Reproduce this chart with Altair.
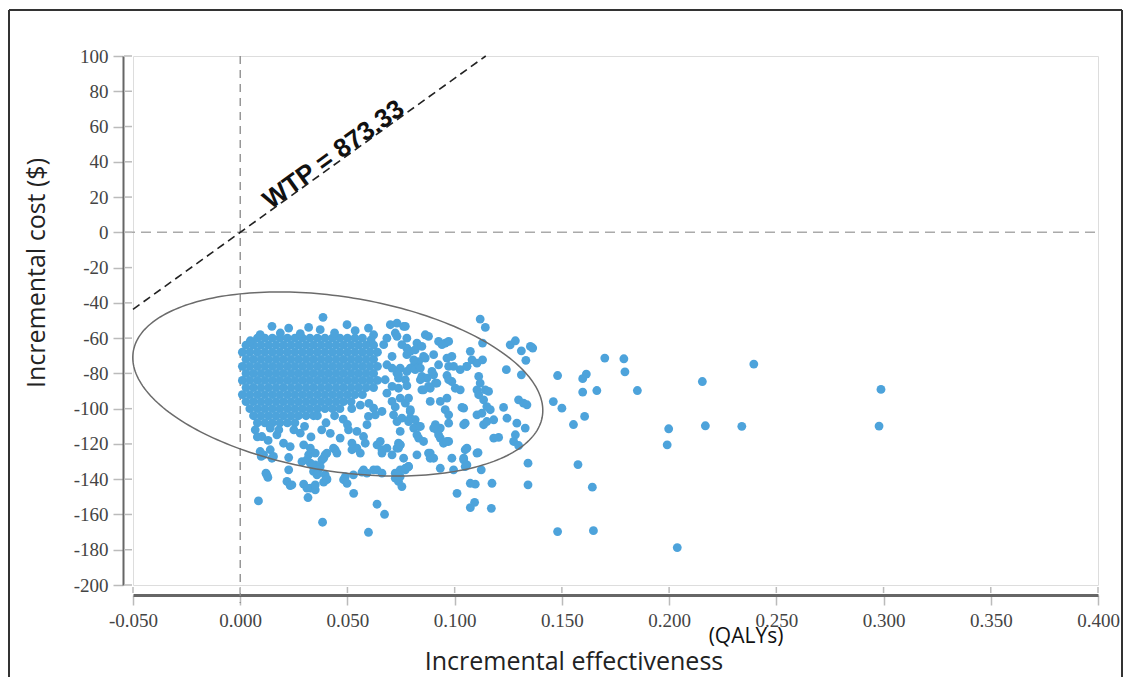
import altair as alt
import pandas as pd
import numpy as np

# ---------------- data ----------------
x_ticks = [-0.05, 0.0, 0.05, 0.1, 0.15, 0.2, 0.25, 0.3, 0.35, 0.4]
y_ticks = [100, 80, 60, 40, 20, 0, -20, -40, -60, -80, -100, -120, -140, -160, -180, -200]

wtp = 873.33
wtp_eff = [-0.05, 0.1145]

# dense core of the cloud, one list of effects per cost row
core_cost_rows = [-60, -64, -68, -72, -76, -80, -84, -88, -92, -96, -100, -104, -108]
core_eff_rows = [
    [0.008, 0.0115, 0.015, 0.0185, 0.022, 0.0255, 0.029, 0.0325, 0.036, 0.0395, 0.043, 0.0465, 0.050, 0.0535, 0.057],
    [0.0027, 0.0062, 0.0097, 0.0132, 0.0167, 0.0202, 0.0237, 0.0272, 0.0307, 0.0342, 0.0377, 0.0412, 0.0447, 0.0482, 0.0517, 0.0552, 0.0587, 0.0622],
    [0.001, 0.0045, 0.008, 0.0115, 0.015, 0.0185, 0.022, 0.0255, 0.029, 0.0325, 0.036, 0.0395, 0.043, 0.0465, 0.050, 0.0535, 0.057, 0.0605, 0.064],
    [0.0027, 0.0062, 0.0097, 0.0132, 0.0167, 0.0202, 0.0237, 0.0272, 0.0307, 0.0342, 0.0377, 0.0412, 0.0447, 0.0482, 0.0517, 0.0552, 0.0587, 0.0622],
    [0.001, 0.0045, 0.008, 0.0115, 0.015, 0.0185, 0.022, 0.0255, 0.029, 0.0325, 0.036, 0.0395, 0.043, 0.0465, 0.050, 0.0535, 0.057, 0.0605, 0.064],
    [0.0027, 0.0062, 0.0097, 0.0132, 0.0167, 0.0202, 0.0237, 0.0272, 0.0307, 0.0342, 0.0377, 0.0412, 0.0447, 0.0482, 0.0517, 0.0552, 0.0587, 0.0622],
    [0.001, 0.0045, 0.008, 0.0115, 0.015, 0.0185, 0.022, 0.0255, 0.029, 0.0325, 0.036, 0.0395, 0.043, 0.0465, 0.050, 0.0535, 0.057, 0.0605, 0.064],
    [0.0027, 0.0062, 0.0097, 0.0132, 0.0167, 0.0202, 0.0237, 0.0272, 0.0307, 0.0342, 0.0377, 0.0412, 0.0447, 0.0482, 0.0517, 0.0552, 0.0587, 0.0622],
    [0.001, 0.0045, 0.008, 0.0115, 0.015, 0.0185, 0.022, 0.0255, 0.029, 0.0325, 0.036, 0.0395, 0.043, 0.0465, 0.050, 0.0535, 0.057],
    [0.0027, 0.0062, 0.0097, 0.0132, 0.0167, 0.0202, 0.0237, 0.0272, 0.0307, 0.0342, 0.0377, 0.0412, 0.0447, 0.0482, 0.0517],
    [0.0045, 0.008, 0.0115, 0.015, 0.0185, 0.022, 0.0255, 0.029, 0.0325, 0.036, 0.0395, 0.043, 0.0465],
    [0.0062, 0.0097, 0.0132, 0.0167, 0.0202, 0.0237, 0.0272, 0.0307, 0.0342],
    [0.008, 0.0115, 0.015, 0.0185, 0.022, 0.0255],
]

# scattered simulations around the core
spread_pts = [
    (0.0148, -53.3), (0.0226, -54.3), (0.0319, -53.9), (0.0386, -48.2), (0.0498, -52.4), (0.0536, -55.8),
    (0.0598, -54.3), (0.0373, -55.2), (0.0187, -57.1), (0.0093, -58.0), (0.0047, -61.5), (0.0622, -58.1),
    (0.0700, -52.4), (0.0731, -51.5), (0.0762, -53.3), (0.0440, -57.0), (0.0280, -57.5), (0.0610, -61.0),
    (0.0669, -63.7), (0.0708, -70.4), (0.0684, -75.1), (0.0676, -83.6), (0.0708, -87.4), (0.0738, -82.7),
    (0.0770, -83.6), (0.0684, -91.2), (0.0708, -95.9), (0.0661, -101.6), (0.0715, -103.5), (0.0731, -107.3),
    (0.0777, -69.4), (0.0793, -67.5), (0.0754, -63.7), (0.0723, -57.1), (0.0684, -60.0), (0.0731, -59.0),
    (0.0777, -65.7), (0.0824, -62.8), (0.0847, -64.7), (0.0855, -70.4), (0.0832, -73.3), (0.0809, -76.0),
    (0.0746, -77.0), (0.0777, -78.9), (0.0731, -79.9), (0.0708, -77.0), (0.0847, -81.7), (0.0871, -82.7),
    (0.0902, -80.8), (0.0917, -85.5), (0.0886, -88.4), (0.0847, -89.3), (0.0972, -76.0), (0.0987, -84.6),
    (0.1026, -77.9), (0.1057, -76.0), (0.1073, -67.5), (0.0746, -94.0), (0.0770, -96.9), (0.0793, -101.6),
    (0.0863, -58.1), (0.0878, -59.0), (0.0925, -61.9), (0.0956, -62.8), (0.0972, -61.9), (0.0777, -60.0),
    (0.0770, -53.3), (0.0785, -67.5), (0.0816, -66.6), (0.0863, -71.3), (0.0809, -72.3), (0.0793, -77.0),
    (0.0816, -77.9), (0.0840, -77.0), (0.0738, -80.8), (0.0777, -87.0), (0.0738, -88.4), (0.0723, -99.0),
    (0.0785, -94.0), (0.0793, -100.6), (0.0754, -105.4), (0.0793, -105.4), (0.0816, -106.3), (0.0832, -110.1),
    (0.0832, -116.7), (0.0746, -112.9), (0.0746, -120.5), (0.0738, -122.4), (0.0902, -69.4), (0.0925, -75.1),
    (0.0964, -71.3), (0.0941, -63.7), (0.0995, -76.0), (0.0964, -81.2), (0.0972, -83.6), (0.0910, -85.5),
    (0.0878, -87.4), (0.0855, -89.3), (0.0840, -83.6), (0.0894, -78.9), (0.0987, -70.4), (0.1026, -89.3),
    (0.1003, -88.4), (0.1042, -99.7),
    (0.1119, -49.2), (0.1143, -53.9), (0.1130, -62.8), (0.1259, -63.8), (0.1283, -61.5), (0.1311, -67.2),
    (0.1353, -64.7), (0.1364, -65.6), (0.1332, -72.6), (0.1241, -77.9), (0.1311, -80.8), (0.1298, -95.0),
    (0.1321, -96.9), (0.1337, -97.8), (0.1228, -99.3), (0.1244, -105.4), (0.1290, -108.2), (0.1329, -111.0),
    (0.1283, -114.8), (0.1275, -118.6), (0.1298, -120.9), (0.1205, -116.3), (0.1182, -116.7), (0.1342, -130.9),
    (0.1342, -143.2), (0.1174, -142.3), (0.1096, -142.8), (0.1073, -142.3), (0.1124, -134.7), (0.1109, -124.9),
    (0.1049, -123.3), (0.1042, -129.0), (0.1049, -132.8), (0.0987, -128.1), (0.0933, -133.8), (0.0878, -125.2),
    (0.0886, -128.1), (0.0785, -132.8), (0.0770, -134.7), (0.0746, -138.5), (0.0972, -118.6), (0.0948, -119.6),
    (0.0933, -111.0), (0.0910, -109.1), (0.0917, -112.0), (0.0972, -108.2), (0.1049, -108.2), (0.1042, -109.1),
    (0.1135, -109.1), (0.1150, -107.3), (0.1182, -106.3), (0.1104, -103.5), (0.1127, -102.6), (0.1150, -98.8),
    (0.1166, -100.6), (0.1034, -99.3), (0.1112, -81.7), (0.1119, -85.5), (0.1104, -89.3), (0.1112, -92.1),
    (0.1143, -89.3), (0.1135, -95.0), (0.1158, -90.2), (0.1081, -72.3), (0.1104, -74.2), (0.1130, -72.3),
    (0.1057, -76.0), (0.0886, -95.9), (0.0933, -95.9), (0.0964, -94.0), (0.0956, -100.6), (0.0972, -103.5),
    (0.0933, -116.7), (0.0964, -118.6), (0.0824, -126.2), (0.0886, -125.2), (0.0902, -128.1), (0.0995, -134.7),
    (0.1057, -122.4), (0.1104, -125.2), (0.1042, -128.1), (0.1057, -131.9), (0.0785, -107.3), (0.0809, -111.0),
    (0.0824, -114.8), (0.0840, -110.1), (0.0855, -118.6), (0.0902, -111.0), (0.0925, -114.8),
    (0.1011, -148.0), (0.1073, -156.1), (0.1093, -153.1), (0.1171, -156.5),
]

lower_pts = [
    (0.0085, -152.3), (0.0120, -136.6), (0.0129, -139.0), (0.0093, -124.3), (0.0098, -127.1), (0.0140, -123.3),
    (0.0155, -127.1), (0.0218, -141.3), (0.0233, -143.6), (0.0226, -127.7), (0.0226, -134.7), (0.0296, -142.8),
    (0.0327, -145.1), (0.0350, -146.0), (0.0316, -150.4), (0.0384, -164.4), (0.0389, -141.7), (0.0404, -139.8),
    (0.0342, -135.6), (0.0358, -136.6), (0.0288, -130.0), (0.0327, -130.9), (0.0319, -126.2), (0.0482, -140.3),
    (0.0498, -142.3), (0.0529, -148.0), (0.0568, -136.0), (0.0591, -136.6), (0.0638, -134.7), (0.0661, -136.6),
    (0.0638, -154.2), (0.0673, -159.9), (0.0598, -170.1), (0.0723, -136.6), (0.0746, -134.7), (0.0770, -133.8),
    (0.0785, -132.8), (0.0723, -139.4), (0.0738, -141.3), (0.0754, -144.2), (0.0731, -122.4), (0.0738, -119.6),
    (0.0583, -119.6), (0.0638, -120.5), (0.0661, -123.3), (0.0521, -123.3), (0.0544, -122.4), (0.0443, -123.3),
    (0.0396, -126.2), (0.0381, -129.0), (0.0373, -132.8), (0.0350, -131.9), (0.0070, -112.0), (0.0101, -115.8),
    (0.0109, -126.2), (0.0148, -128.1), (0.0124, -137.5), (0.0171, -114.8), (0.0202, -119.6), (0.0233, -121.5),
    (0.0280, -113.9), (0.0296, -120.5), (0.0327, -122.4), (0.0350, -125.2), (0.0311, -129.0), (0.0334, -131.9),
    (0.0365, -134.7), (0.0389, -128.1), (0.0404, -125.2), (0.0241, -143.2), (0.0311, -145.1), (0.0350, -143.2),
    (0.0358, -137.5), (0.0396, -137.5), (0.0404, -140.3), (0.0490, -138.5), (0.0435, -122.4), (0.0451, -125.2),
    (0.0466, -116.7), (0.0505, -112.0), (0.0544, -112.9), (0.0575, -115.8), (0.0591, -109.1), (0.0521, -119.6),
    (0.0560, -125.2), (0.0598, -104.4), (0.0622, -99.7), (0.0630, -103.5), (0.0528, -137.5), (0.0575, -134.7),
    (0.0622, -134.7), (0.0731, -137.5), (0.0653, -118.6), (0.0684, -122.4), (0.0661, -125.2), (0.0708, -126.2),
    (0.0746, -120.5), (0.0762, -128.1), (0.0360, -104.0), (0.0400, -108.0), (0.0440, -104.0), (0.0480, -106.0),
    (0.0520, -100.0), (0.0560, -98.0), (0.0600, -97.0), (0.0500, -109.0), (0.0380, -112.0), (0.0300, -110.0),
    (0.0250, -112.0), (0.0180, -112.0), (0.0140, -111.0), (0.0420, -114.0), (0.0330, -116.0), (0.0080, -116.0),
    (0.0130, -118.0),
]

far_pts = [
    (0.148, -81.2), (0.146, -96.0), (0.150, -99.7), (0.1554, -109.0), (0.1575, -131.7), (0.1597, -90.6),
    (0.1597, -83.0), (0.1614, -80.4), (0.1606, -104.4), (0.1663, -89.7), (0.1642, -144.5), (0.148, -169.7),
    (0.1647, -169.2), (0.170, -71.3), (0.1789, -71.7), (0.1794, -79.1), (0.1852, -89.7), (0.1991, -120.5),
    (0.1998, -111.4), (0.2038, -178.8), (0.2155, -84.6), (0.2169, -109.7), (0.2339, -110.0), (0.2395, -74.7),
    (0.2988, -89.1), (0.2979, -109.9),
]

# confidence ellipse (centre, horizontal half-extent, tilt term, vertical half-axis)
ell_cx, ell_cy = 0.0455, -86.0
ell_hx, ell_k, ell_hy = 0.0956, -15.0, 50.0

# ---------------- tables ----------------
eff_all, cost_all = [], []
for c, row in zip(core_cost_rows, core_eff_rows):
    for e in row:
        eff_all.append(e)
        cost_all.append(c)
for e, c in spread_pts + lower_pts + far_pts:
    eff_all.append(e)
    cost_all.append(c)
pts = pd.DataFrame({"eff": eff_all, "cost": cost_all})

t = np.linspace(0, 2 * np.pi, 241)
ell = pd.DataFrame({
    "t": t,
    "eff": ell_cx + ell_hx * np.cos(t),
    "cost": ell_cy + ell_k * np.cos(t) + ell_hy * np.sin(t),
})

wtp_df = pd.DataFrame({"eff": wtp_eff, "cost": [wtp * e for e in wtp_eff]})
xt_df = pd.DataFrame({"v": x_ticks})
yt_df = pd.DataFrame({"v": y_ticks})
zero_df = pd.DataFrame({"v": [0.0]})
one = pd.DataFrame({"a": [0]})
lbl_df = pd.DataFrame({"eff": [0.0436], "cost": [44.0], "txt": ["WTP = 873.33"]})

W, H = 965, 529
xscale = alt.Scale(domain=[-0.05, 0.4], nice=False, zero=False)
yscale = alt.Scale(domain=[-200, 100], nice=False, zero=False)

xaxis = alt.Axis(values=x_ticks, offset=10, title=None, grid=False, labelFlush=False,
                 domainColor="#666666", domainWidth=3, tickColor="#bbbbbb", tickWidth=1.5, tickSize=10,
                 labelFont="Liberation Serif", labelFontSize=19, labelColor="#444444", labelPadding=6,
                 labelExpr="(datum.value < 0 ? '-' : '') + format(abs(datum.value), '.3f')")
yaxis = alt.Axis(values=y_ticks, offset=10, title=None, grid=False, labelFlush=False,
                 domainColor="#666666", domainWidth=2, tickColor="#bbbbbb", tickWidth=1.5, tickSize=10,
                 labelFont="Liberation Serif", labelFontSize=19, labelColor="#444444", labelPadding=5,
                 labelExpr="(datum.value < 0 ? '-' : '') + format(abs(datum.value), 'd')")

X = lambda f: alt.X(f, type="quantitative", scale=xscale, axis=xaxis)
Y = lambda f: alt.Y(f, type="quantitative", scale=yscale, axis=yaxis)

hzero = alt.Chart(zero_df).mark_rule(color="#aaaaaa", strokeWidth=1.5, strokeDash=[10, 6]).encode(
    y=Y("v"), x=alt.value(-8), x2=alt.value(W + 2))
vzero = alt.Chart(zero_df).mark_rule(color="#888888", strokeWidth=1.3, strokeDash=[8, 6]).encode(
    x=X("v"), y=alt.value(0), y2=alt.value(H + 18))
wtp_line = alt.Chart(wtp_df).mark_line(color="#222222", strokeWidth=1.6, strokeDash=[8, 5]).encode(
    x=X("eff"), y=Y("cost"))
points = alt.Chart(pts).mark_circle(size=78, color="#4DA3DB", opacity=1).encode(x=X("eff"), y=Y("cost"))
ellipse = alt.Chart(ell).mark_line(color="#6b6b6b", strokeWidth=1.5).encode(
    x=X("eff"), y=Y("cost"), order=alt.Order("t:Q"))
wtp_text = alt.Chart(lbl_df).mark_text(font="Liberation Sans", fontWeight="bold", fontSize=26,
                                       angle=324.3, align="center", baseline="middle", color="#111111").encode(
    x=X("eff"), y=Y("cost"), text="txt:N")
xin = alt.Chart(xt_df).mark_rule(color="#bbbbbb", strokeWidth=1.5).encode(
    x=X("v"), y=alt.value(H + 2), y2=alt.value(H + 8))
yin = alt.Chart(yt_df).mark_rule(color="#bbbbbb", strokeWidth=1.5).encode(
    y=Y("v"), x=alt.value(-9), x2=alt.value(-1))

ytitle = alt.Chart(one).mark_text(text="Incremental cost ($)", font="Open Sans", fontSize=25, angle=270,
                                  align="center", baseline="middle", color="#222222").encode(
    x=alt.value(-96), y=alt.value(217))
xtitle = alt.Chart(one).mark_text(text="Incremental effectiveness", font="Open Sans", fontSize=25,
                                  align="center", baseline="middle", color="#222222").encode(
    x=alt.value(441), y=alt.value(606))
qaly = alt.Chart(one).mark_text(text="(QALYs)", font="Open Sans", fontSize=21,
                                align="center", baseline="middle", color="#111111").encode(
    x=alt.value(613), y=alt.value(581))

fr = dict(color="#333333", strokeWidth=2)
f_left = alt.Chart(one).mark_rule(**fr).encode(x=alt.value(-124), y=alt.value(-46), y2=alt.value(625))
f_top = alt.Chart(one).mark_rule(**fr).encode(x=alt.value(-124), x2=alt.value(989), y=alt.value(-46))
f_right = alt.Chart(one).mark_rule(**fr).encode(x=alt.value(989), y=alt.value(-46), y2=alt.value(625))

chart = alt.layer(
    hzero, vzero, wtp_line, points, ellipse, wtp_text, xin, yin,
    ytitle, xtitle, qaly, f_left, f_top, f_right
).properties(
    width=W, height=H,
    autosize=alt.AutoSizeParams(type="none"),
    padding={"left": 125, "top": 48, "right": 25, "bottom": 92},
).configure_view(stroke=None).configure(background="white")

chart.save("out.html", embed_options={"renderer": "svg", "actions": False})
